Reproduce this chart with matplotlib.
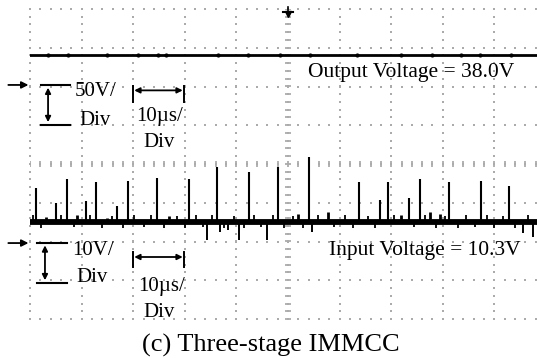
import numpy as np
import matplotlib.pyplot as plt

plt.rcParams['font.family'] = ['Liberation Serif', 'DejaVu Serif']

# ekran birimleri: zaman µs (10 µs/div), dikey eksen bölme (div)
output_level = 2.81
output_blips = [-46.5, -42.6, -35.1, -29.1, -25.2, -23.6, -13.6, -7.8, -1.6, 4.3,
                13.4, 21.9, 27.9, 33.5, 37.2, 43.2]

input_level = -1.49
spike_t = [-48.8, -45.0, -42.8, -39.1, -37.2, -33.1, -31.0, -25.4, -19.2, -13.8, -7.6,
           -1.9, 4.1, 13.8, 17.8, 19.4, 23.4, 25.6, 31.2, 37.4, 42.8]
spike_top = [-0.62, -1.01, -0.39, -0.95, -0.46, -1.08, -0.44, -0.36, -0.39, -0.08, -0.21,
             -0.08, 0.18, -0.46, -0.93, -0.46, -0.88, -0.39, -0.46, -0.44, -0.57]
bump_t = [-46.9, -40.9, -35.1, -23.1, 1.9, 7.8, 21.9, 27.5, 29.5]
bump_top = [-1.37, -1.32, -1.39, -1.34, -1.29, -1.24, -1.32, -1.24, -1.29]
dip_t = [-15.7, -13.2, -11.6, -9.5, -4.1, 4.7, 45.5, 47.5]
dip_bottom = [-1.96, -1.75, -1.70, -1.96, -1.96, -1.75, -1.78, -1.88]
# taban çizgisindeki küçük kırpıntılar
fuzz_t = [-49.5, -47.8, -44.0, -41.5, -38.3, -36.0, -34.2, -32.0, -29.8, -28.0, -26.5,
          -24.0, -21.5, -20.0, -17.8, -16.5, -14.8, -12.4, -10.5, -8.6, -6.5, -5.2,
          -3.0, -0.8, 0.9, 3.0, 5.8, 9.0, 11.0, 12.6, 15.5, 16.8, 20.6, 24.5, 26.6,
          28.6, 30.4, 33.0, 34.5, 36.2, 38.6, 40.0, 41.6, 44.0, 46.5, 48.8]
fuzz_off = [0.12, -0.12, 0.12, -0.1, 0.12, -0.12, 0.1, -0.12, 0.12, -0.1, 0.12,
            -0.12, 0.1, -0.12, 0.12, -0.1, 0.12, -0.12, 0.1, -0.12, 0.12, -0.1,
            0.12, -0.12, 0.1, -0.12, 0.12, -0.1, 0.12, -0.12, 0.1, -0.12, 0.12, -0.1,
            0.12, -0.12, 0.1, -0.12, 0.12, -0.1, 0.12, -0.12, 0.1, -0.12, 0.12, -0.1]

fig = plt.figure(figsize=(5.37, 3.58), dpi=100)
ax = fig.add_axes([30 / 537, 39 / 358, 516 / 537, 310 / 358])
ax.set_xlim(-50, 50)
ax.set_ylim(-4, 4)
ax.axis('off')

# noktalı ızgara
dot = dict(marker='s', s=2.0, color='#ababab', linewidths=0, zorder=1)
xs = np.arange(-50, 50.1, 2)
ys = np.arange(-4, 4.01, 0.2)
for gy in range(-4, 5):
    ax.scatter(xs, np.full(len(xs), gy), clip_on=False, **dot)
for gx in range(-50, 51, 10):
    ax.scatter(np.full(len(ys), gx), ys, clip_on=False, **dot)
# orta eksenler
ax.plot(np.zeros(len(ys)), ys, ls='none', marker='_', ms=5, mew=1.3, color='#ababab', zorder=1)
ax.plot(xs, np.zeros(len(xs)), ls='none', marker='|', ms=5, mew=1.3, color='#ababab', zorder=1)

# çıkış gerilimi
ax.axhline(output_level, color='black', lw=2.0, zorder=3)
ax.plot(output_blips, [output_level] * len(output_blips), ls='none', marker='o', ms=2.0,
        color='black', zorder=3)

# giriş gerilimi
ax.axhline(input_level, color='black', lw=4.2, zorder=3)
ax.vlines(fuzz_t, input_level, [input_level + f * 1.4 for f in fuzz_off], color='black',
          lw=1.3, zorder=3)
ax.vlines(spike_t, input_level, spike_top, color='black', lw=1.5, zorder=3)
ax.vlines(bump_t, input_level, bump_top, color='black', lw=2.0, zorder=3)
ax.vlines(dip_t, dip_bottom, input_level, color='black', lw=1.4, zorder=3)

arrow = dict(arrowstyle='-|>', color='black', lw=1.3, mutation_scale=10, shrinkA=0, shrinkB=0)
both = dict(arrowstyle='<|-|>', color='black', lw=1.3, mutation_scale=8, shrinkA=0, shrinkB=0)

# kanal işaretleri
for gnd in (2.04, -2.04):
    ax.annotate('', xy=(-50.3, gnd), xytext=(-54.2, gnd), arrowprops=arrow, annotation_clip=False)

# tetik işareti
ax.plot([0, 0], [3.93, 4.04], color='black', lw=1.2, clip_on=False, zorder=4)
ax.plot([-0.9, 0.9], [3.93, 3.93], color='black', lw=1.5, clip_on=False, zorder=4)
ax.plot(0, 3.86, marker='v', ms=5, color='black', clip_on=False, zorder=4)

fs = 15
# üst ölçek göstergeleri
ax.plot([-47.9, -42.2], [2.04, 2.04], color='black', lw=1.5)
ax.plot([-47.9, -42.2], [1.01, 1.01], color='black', lw=1.5)
ax.annotate('', xy=(-46.5, 1.08), xytext=(-46.5, 1.97), arrowprops=both)
ax.text(-41.4, 1.86, '50V/', fontsize=fs, va='center', ha='left')
ax.text(-40.4, 1.12, 'Div', fontsize=fs, va='center', ha='left')
ax.plot([-30.0, -30.0], [1.60, 2.01], color='black', lw=1.4)
ax.plot([-20.2, -20.2], [1.60, 2.01], color='black', lw=1.4)
ax.annotate('', xy=(-20.4, 1.90), xytext=(-29.8, 1.90), arrowprops=both)
ax.text(-24.8, 1.22, '10µs/', fontsize=fs, va='center', ha='center')
ax.text(-25.0, 0.55, 'Div', fontsize=fs, va='center', ha='center')

# alt ölçek göstergeleri
ax.plot([-48.6, -42.8], [-2.04, -2.04], color='black', lw=1.5)
ax.plot([-48.6, -42.8], [-3.07, -3.07], color='black', lw=1.5)
ax.annotate('', xy=(-47.1, -3.0), xytext=(-47.1, -2.1), arrowprops=both)
ax.text(-41.8, -2.22, '10V/', fontsize=fs, va='center', ha='left')
ax.text(-41.0, -2.92, 'Div', fontsize=fs, va='center', ha='left')
ax.plot([-30.0, -30.0], [-2.66, -2.27], color='black', lw=1.4)
ax.plot([-20.2, -20.2], [-2.66, -2.27], color='black', lw=1.4)
ax.annotate('', xy=(-20.4, -2.40), xytext=(-29.8, -2.40), arrowprops=both)
ax.text(-24.6, -3.17, '10µs/', fontsize=fs, va='center', ha='center')
ax.text(-25.0, -3.82, 'Div', fontsize=fs, va='center', ha='center')

ax.text(3.9, 2.35, 'Output Voltage = 38.0V', fontsize=15.5, va='center', ha='left')
ax.text(7.9, -2.22, 'Input Voltage = 10.3V', fontsize=15.5, va='center', ha='left')

fig.text(271 / 537, 1 - 345 / 358, '(c) Three-stage IMMCC', fontsize=19, ha='center', va='center')

fig.savefig('out.png', dpi=100)
